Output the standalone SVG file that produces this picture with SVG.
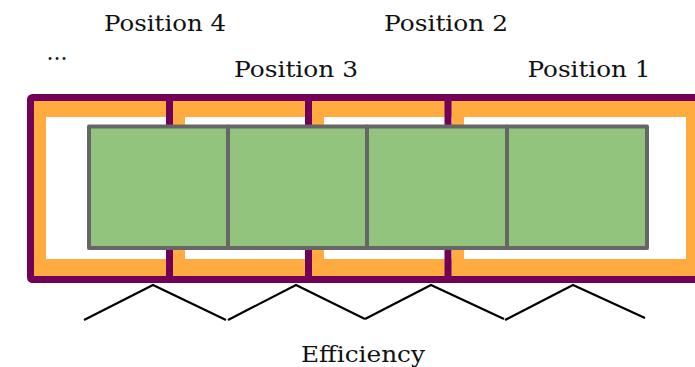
<svg xmlns="http://www.w3.org/2000/svg" width="695" height="367" viewBox="0 0 695 367">
<style>
text{font-family:"DejaVu Serif","Liberation Serif",serif;font-size:22px;fill:#111;text-anchor:middle}
.div{stroke:#720058;stroke-width:7}
.band{fill:#ffab40}
.cell{fill:#93c47d;stroke:#666666;stroke-width:4;stroke-linejoin:round}
.zig{fill:none;stroke:#000;stroke-width:2.2}
</style>
<rect width="695" height="367" fill="#fff"/>
<g id="frame">
<rect x="30.5" y="97.5" width="672" height="182" rx="2" fill="#ffab40" stroke="#720058" stroke-width="7"/>
<rect x="46" y="117" width="640" height="142" fill="#fff"/>
</g>
<g id="position4">
<text x="165" y="31" textLength="122" lengthAdjust="spacingAndGlyphs">Position 4</text>
</g>
<g id="position3">
<rect class="band" x="173" y="101" width="12" height="175"/>
<line class="div" x1="169.5" y1="94" x2="169.5" y2="283"/>
<text x="296" y="77" textLength="124" lengthAdjust="spacingAndGlyphs">Position 3</text>
</g>
<g id="position2">
<rect class="band" x="312" y="101" width="12" height="175"/>
<line class="div" x1="308.5" y1="94" x2="308.5" y2="283"/>
<text x="446" y="31" textLength="124" lengthAdjust="spacingAndGlyphs">Position 2</text>
</g>
<g id="position1">
<rect class="band" x="452" y="101" width="12" height="175"/>
<line class="div" x1="448" y1="94" x2="448" y2="283"/>
<text x="589" y="77" textLength="123" lengthAdjust="spacingAndGlyphs">Position 1</text>
</g>
<g id="cells">
<rect class="cell" x="89" y="126.5" width="139" height="121.5"/>
<rect class="cell" x="228" y="126.5" width="139" height="121.5"/>
<rect class="cell" x="367" y="126.5" width="140" height="121.5"/>
<rect class="cell" x="507" y="126.5" width="140" height="121.5"/>
</g>
<g id="connectors">
<polyline class="zig" points="84,320 153,285 226,320"/>
<polyline class="zig" points="228,320 296,285 365,319"/>
<polyline class="zig" points="365,319 431,285 504,319"/>
<polyline class="zig" points="505,320 573,285 645,318"/>
</g>
<text x="57" y="60">...</text>
<text x="363" y="362" textLength="124" lengthAdjust="spacingAndGlyphs">Efficiency</text>
</svg>
